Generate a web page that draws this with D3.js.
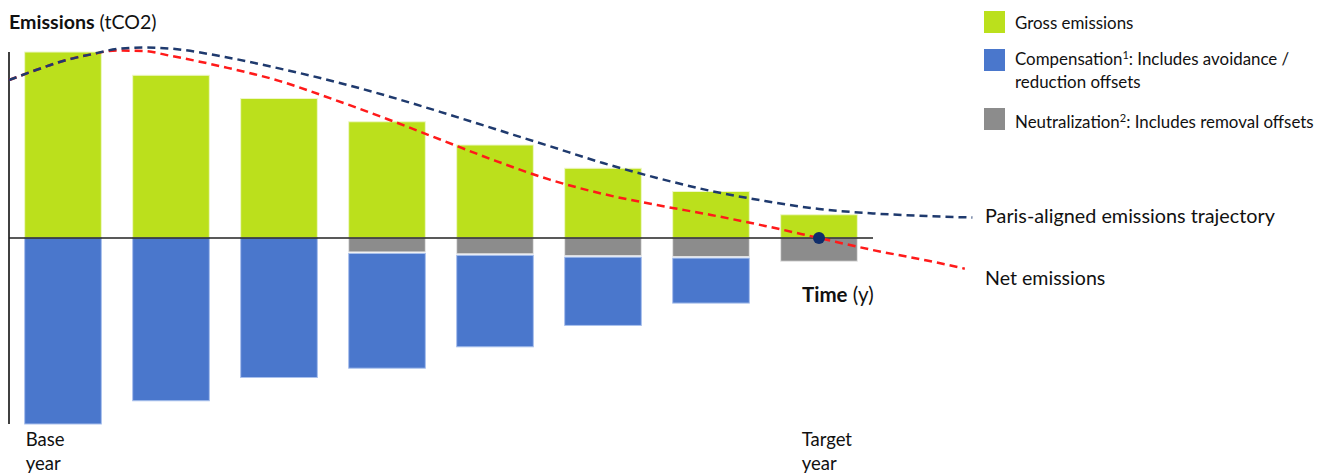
<!DOCTYPE html>
<html>
<head>
<meta charset="utf-8">
<script src="https://cdn.jsdelivr.net/npm/d3@7"></script>
<style>
  html, body { margin: 0; padding: 0; background: #fff; }
  svg { display: block; }
  text { font-family: Lato, "Open Sans", sans-serif; fill: #111; }
</style>
</head>
<body>
<svg id="chart" width="1318" height="473"></svg>
<script>
// ---------- data ----------
const periods = [0, 1, 2, 3, 4, 5, 6, 7];
const periodLabels = ["Base year", "", "", "", "", "", "", "Target year"];
const grossEmissions = [100, 87.5, 75, 62.5, 50, 37.5, 25, 12.5];
const neutralization = [0, 0, 0, 7.5, 8.5, 9.5, 10, 12.5];
const compensation = [100, 87.5, 75, 62.5, 50, 37.5, 25, 0];

// Paris-aligned trajectory (t in periods, value in tCO2 index)
const parisT = [-0.5, -0.25, 0, 0.25, 0.5, 0.75, 1, 1.5, 2, 2.5, 3, 3.5, 4, 4.5, 5, 5.5, 6, 6.5, 7, 7.5, 8, 8.42];
const parisV = [84.9, 90.3, 95.2, 98.6, 101.6, 102.4, 101.8, 97.3, 91.2, 84.3, 76.4, 67.7, 58.6, 49.5, 40.3, 32.3, 25.3, 19.9, 15.6, 13.2, 11.8, 11.0];

// Net emissions trajectory
const netT = [-0.5, -0.25, 0, 0.25, 0.5, 0.75, 1, 1.5, 2, 2.5, 3, 3.5, 4, 4.5, 5, 5.5, 6, 6.5, 7, 7.5, 8, 8.35];
const netV = [84.9, 90.3, 95.2, 98.6, 100.8, 100.5, 97.9, 91.8, 84.5, 74.6, 64.0, 52.8, 41.6, 31.5, 23.7, 17.7, 12.4, 6.5, 0, -6.5, -12.1, -16.5];

const netZeroPoint = { t: 7, v: 0 };

const legendItems = [
  { key: "gross", lines: [["Gross emissions"]] },
  { key: "comp", lines: [["Compensation", "1", ": Includes avoidance /"], ["reduction offsets"]] },
  { key: "neut", lines: [["Neutralization", "2", ": Includes removal offsets"]] }
];

// ---------- styles ----------
const colors = {
  gross: "#bbe01c",
  comp: "#4a77cc",
  neut: "#8c8c8c",
  paris: "#1f3a6e",
  net: "#ff1a1a",
  dot: "#0f2d6b"
};

// ---------- scales ----------
const svg = d3.select("#chart");
const x = d3.scaleBand().domain(periods).range([9, 873]).paddingInner(0.29).paddingOuter(0.145);
const xt = d3.scaleLinear().domain([-0.5, 7.5]).range([9, 873]);
const y = d3.scaleLinear().domain([-100, 100]).range([424, 52]);

// ---------- bars ----------
const bars = svg.append("g");
bars.selectAll("rect.gross").data(periods).join("rect")
  .attr("class", "gross")
  .attr("x", d => x(d)).attr("width", x.bandwidth())
  .attr("y", d => y(grossEmissions[d])).attr("height", d => y(0) - y(grossEmissions[d]))
  .attr("fill", colors.gross).attr("stroke", "#eef7c8").attr("stroke-width", 1);
bars.selectAll("rect.neut").data(periods.filter(d => neutralization[d] > 0)).join("rect")
  .attr("class", "neut")
  .attr("x", d => x(d)).attr("width", x.bandwidth())
  .attr("y", y(0)).attr("height", d => y(-neutralization[d]) - y(0))
  .attr("fill", colors.neut).attr("stroke", "#e6e6e6").attr("stroke-width", 1);
bars.selectAll("rect.comp").data(periods.filter(d => compensation[d] > 0)).join("rect")
  .attr("class", "comp")
  .attr("x", d => x(d)).attr("width", x.bandwidth())
  .attr("y", d => y(-neutralization[d]) + (neutralization[d] > 0 ? 1.5 : 0))
  .attr("height", d => y(-neutralization[d] - compensation[d]) - y(-neutralization[d]) - (neutralization[d] > 0 ? 1.5 : 0))
  .attr("fill", colors.comp).attr("stroke", "#a9c0ec").attr("stroke-width", 1);

// ---------- axes ----------
svg.append("line")
  .attr("x1", xt(-0.5)).attr("x2", xt(-0.5))
  .attr("y1", y(100)).attr("y2", y(-100))
  .attr("stroke", "#000").attr("stroke-width", 1.5);
svg.append("line")
  .attr("x1", xt(-0.5)).attr("x2", xt(7.5))
  .attr("y1", y(0)).attr("y2", y(0))
  .attr("stroke", "#222").attr("stroke-width", 1.5);

// ---------- lines ----------
const lineGen = d3.line().curve(d3.curveMonotoneX).x(d => xt(d[0])).y(d => y(d[1]));
svg.append("path")
  .datum(netT.map((t, i) => [t, netV[i]]))
  .attr("d", lineGen).attr("fill", "none")
  .attr("stroke", colors.net).attr("stroke-width", 2.5).attr("stroke-dasharray", "8,5");
svg.append("path")
  .datum(parisT.map((t, i) => [t, parisV[i]]))
  .attr("d", lineGen).attr("fill", "none")
  .attr("stroke", colors.paris).attr("stroke-width", 2.5).attr("stroke-dasharray", "8,5");

svg.append("circle")
  .attr("cx", xt(netZeroPoint.t)).attr("cy", y(netZeroPoint.v)).attr("r", 6)
  .attr("fill", colors.dot);

// ---------- texts ----------
const title = svg.append("text").attr("x", 9).attr("y", 29).style("font-size", "19.6px");
title.append("tspan").attr("font-weight", "bold").text("Emissions");
title.append("tspan").text(" (tCO2)");

svg.append("text").attr("x", 985).attr("y", 223).style("font-size", "19.8px")
  .text("Paris-aligned emissions trajectory");
svg.append("text").attr("x", 985).attr("y", 285).style("font-size", "19.6px")
  .text("Net emissions");

const tLabel = svg.append("text").attr("x", 802).attr("y", 302).style("font-size", "20.5px");
tLabel.append("tspan").attr("font-weight", "bold").text("Time");
tLabel.append("tspan").text(" (y)");

// category labels: base year at bar's left edge, target year offset inside its bar
const labelOffset = [1, 0, 0, 0, 0, 0, 0, 21];
periods.forEach(d => {
  if (!periodLabels[d]) return;
  const words = periodLabels[d].split(" ");
  const lx = x(d) + labelOffset[d];
  const t = svg.append("text").attr("x", lx).attr("y", 446).style("font-size", "18.5px");
  words.forEach((w, i) => t.append("tspan").attr("x", lx).attr("dy", i === 0 ? 0 : 24).text(w));
});

// legend
const legY = [11, 49, 108];
const legTextY = [29, 65, 128];
legendItems.forEach((item, i) => {
  svg.append("rect").attr("x", 984).attr("y", legY[i]).attr("width", 21).attr("height", 22)
    .attr("fill", colors[item.key]);
  item.lines.forEach((parts, li) => {
    const t = svg.append("text").attr("x", 1015).attr("y", legTextY[i] + li * 23).style("font-size", "16.9px");
    parts.forEach((p, pi) => {
      if (parts.length === 3 && pi === 1) {
        t.append("tspan").attr("dy", -6).style("font-size", "11px").text(p);
      } else if (parts.length === 3 && pi === 2) {
        t.append("tspan").attr("dy", 6).text(p);
      } else {
        t.append("tspan").text(p);
      }
    });
  });
});
</script>
</body>
</html>
